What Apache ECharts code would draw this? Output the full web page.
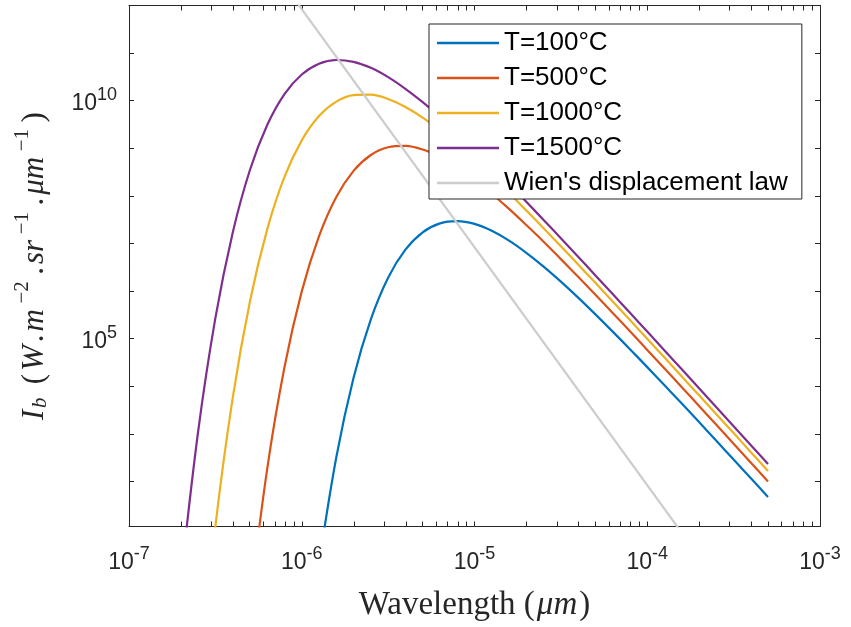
<!DOCTYPE html>
<html><head><meta charset="utf-8">
<script src="https://cdn.jsdelivr.net/npm/echarts@6/dist/echarts.min.js"></script>
<style>html,body{margin:0;padding:0;background:#fff}#c{width:851px;height:627px}</style>
</head><body><div id="c"></div>
<script>
// Wavelength samples (m)
const wavelength = [1.995e-7, 2.512e-7, 3.162e-7, 3.981e-7, 5.012e-7, 6.310e-7, 7.943e-7,
  1.0e-6, 1.259e-6, 1.585e-6, 1.995e-6, 2.512e-6, 3.162e-6, 3.981e-6, 5.012e-6, 6.310e-6, 7.943e-6,
  1.0e-5, 1.259e-5, 1.585e-5, 1.995e-5, 2.512e-5, 3.162e-5, 3.981e-5, 5.012e-5, 6.310e-5, 7.943e-5,
  1.0e-4, 1.259e-4, 1.585e-4, 1.995e-4, 2.512e-4, 3.162e-4, 3.981e-4, 5.0e-4];

const seriesNames = ['T=100°C', 'T=500°C', 'T=1000°C', 'T=1500°C'];
const wienName = "Wien's displacement law";

const intensity100 = [null, null, null, null, null, null, null, null,
  1.88, 324, 1.52e4, 2.56e5, 1.91e6, 7.41e6, 1.72e7, 2.65e7, 2.96e7,
  2.58e7, 1.85e7, 1.15e7, 6.38e6, 3.27e6, 1.58e6, 7.30e5, 3.25e5, 1.41e5, 6.03e4,
  2.53e4, 1.05e4, 4.33e3, 1.77e3, 718, 290, 117, 47.5];
const intensity500 = [null, null, null, null,
  0.282, 185, 2.52e4, 9.86e5, 1.43e7, 9.48e7, 3.35e8, 7.23e8, 1.05e9, 1.12e9, 9.42e8, 6.58e8, 4.00e8,
  2.19e8, 1.11e8, 5.33e7, 2.44e7, 1.09e7, 4.70e6, 2.00e6, 8.38e5, 3.48e5, 1.43e5,
  5.82e4, 2.37e4, 9.56e3, 3.86e3, 1.55e3, 621, 249, 100.5];
const intensity1000 = [null, 3.44e-3, 11.35, 5.60e3, 6.07e5, 1.98e7, 2.50e8,
  1.47e9, 4.76e9, 9.55e9, 1.31e10, 1.34e10, 1.09e10, 7.40e9, 4.42e9, 2.38e9, 1.20e9,
  5.69e8, 2.59e8, 1.15e8, 4.94e7, 2.10e7, 8.77e6, 3.63e6, 1.49e6, 6.07e5, 2.47e5,
  9.95e4, 4.01e4, 1.61e4, 6.47e3, 2.59e3, 1.04e3, 414, 167];
const intensity1500 = [0.82, 1.11e3, 2.70e5, 1.67e7, 3.50e8, 3.09e9, 1.38e10,
  3.56e10, 6.00e10, 7.16e10, 6.56e10, 4.90e10, 3.13e10, 1.78e10, 9.31e9, 4.55e9, 2.12e9,
  9.53e8, 4.16e8, 1.78e8, 7.50e7, 3.13e7, 1.29e7, 5.27e6, 2.14e6, 8.68e5, 3.50e5,
  1.41e5, 5.66e4, 2.27e4, 9.08e3, 3.63e3, 1.45e3, 578, 233];

const wienWavelength = [8.0e-7, 2.0e-4];
const wienIntensity = [2.554e12, 2.616];

const xTicks = [1e-7,2e-7,3e-7,4e-7,5e-7,6e-7,7e-7,8e-7,9e-7,
  1e-6,2e-6,3e-6,4e-6,5e-6,6e-6,7e-6,8e-6,9e-6,
  1e-5,2e-5,3e-5,4e-5,5e-5,6e-5,7e-5,8e-5,9e-5,
  1e-4,2e-4,3e-4,4e-4,5e-4,6e-4,7e-4,8e-4,9e-4,1e-3];
const xLabelTicks = [1e-7, 1e-6, 1e-5, 1e-4, 1e-3];
const xLabelExps = ['-7', '-6', '-5', '-4', '-3'];
const yTicks = [1e2,1e3,1e4,1e5,1e6,1e7,1e8,1e9,1e10,1e11,1e12];
const yLabelTicks = [1e5, 1e10];
const yLabelExps = ['5', '10'];

const colors = ['#0072BD', '#D95319', '#EDB120', '#7E2F8E'];
const wienColor = '#CCCCCC';
const axisColor = '#262626';

function findExp(v, ticks, exps) {
  for (let i = 0; i < ticks.length; i++) {
    if (Math.abs(Math.log10(v) - Math.log10(ticks[i])) < 1e-6) return exps[i];
  }
  return '';
}
const tickRich = {
  b: {fontFamily: 'Liberation Sans', fontSize: 23, lineHeight: 23, padding: [6, 0, 0, 0], color: axisColor},
  s: {fontFamily: 'Liberation Sans', fontSize: 18, lineHeight: 18, padding: [0, 0, 11, 0], color: axisColor}
};

const serif = 'Liberation Serif';
const nameRichX = {
  n: {fontFamily: serif, fontSize: 33, color: axisColor},
  i: {fontFamily: serif, fontStyle: 'italic', fontSize: 33, padding: [0, 2, 0, 2], color: axisColor}
};
const nameRichY = {
  n: {fontFamily: serif, fontSize: 31, lineHeight: 31, padding: [10, 1.5, 10, 1.5], color: axisColor},
  i: {fontFamily: serif, fontStyle: 'italic', fontSize: 31, lineHeight: 31, padding: [10, 1.5, 10, 1.5], color: axisColor},
  sup: {fontFamily: serif, fontSize: 21, lineHeight: 21, padding: [2, 5, 28, 4], color: axisColor},
  sub: {fontFamily: serif, fontStyle: 'italic', fontSize: 21, lineHeight: 21, padding: [20, 4, 10, 0], color: axisColor}
};

const chart = echarts.init(document.getElementById('c'), null, {renderer: 'canvas'});

const xBase = {
  type: 'log', logBase: 10, min: 1e-7, max: 1e-3,
  axisLine: {show: true, lineStyle: {color: axisColor, width: 1}},
  axisTick: {show: true, inside: true, length: 5, customValues: xTicks, lineStyle: {color: axisColor}},
  splitLine: {show: false}, minorTick: {show: false}
};
const yBase = {
  type: 'log', logBase: 10, min: 11.35, max: 1e12,
  axisLine: {show: true, lineStyle: {color: axisColor, width: 1}},
  axisTick: {show: true, inside: true, length: 5, customValues: yTicks, lineStyle: {color: axisColor}},
  splitLine: {show: false}, minorTick: {show: false}
};

const series = [intensity100, intensity500, intensity1000, intensity1500].map((arr, k) => ({
  name: seriesNames[k], type: 'line',
  data: wavelength.map((w, j) => [w, arr[j]]),
  symbol: 'none', showSymbol: false, smooth: 0.35, connectNulls: false, clip: true,
  lineStyle: {width: 2.2, color: colors[k]}, itemStyle: {color: colors[k]}
}));
series.push({
  name: wienName, type: 'line',
  data: wienWavelength.map((w, j) => [w, wienIntensity[j]]),
  symbol: 'none', showSymbol: false, clip: true,
  lineStyle: {width: 2.2, color: wienColor}, itemStyle: {color: wienColor}
});

chart.setOption({
  animation: false,
  backgroundColor: '#fff',
  grid: {left: 129, right: 31, top: 5.5, bottom: 100.5, containLabel: false},
  xAxis: [
    Object.assign({}, xBase, {
      position: 'bottom',
      axisLabel: {show: true, margin: 22, customValues: xLabelTicks,
        formatter: v => '{b|10}{s|' + findExp(v, xLabelTicks, xLabelExps) + '}', rich: tickRich},
      name: '{n|Wavelength (}{i|μm}{n|)}', nameLocation: 'middle', nameGap: 62,
      nameTextStyle: {rich: nameRichX}
    }),
    Object.assign({}, xBase, {position: 'top', axisLabel: {show: false}})
  ],
  yAxis: [
    Object.assign({}, yBase, {
      position: 'left',
      axisLabel: {show: true, margin: 12, customValues: yLabelTicks,
        formatter: v => '{b|10}{s|' + findExp(v, yLabelTicks, yLabelExps) + '}', rich: tickRich},
      name: '{i|I}{sub|b}{n| (}{i|W}{n|.}{i|m}{sup|−2}{n|.}{i|sr}{sup|−1}{n|.}{i|μm}{sup|−1}{n|)}',
      nameLocation: 'middle', nameRotate: 90, nameGap: 78,
      nameTextStyle: {rich: nameRichY}
    }),
    Object.assign({}, yBase, {position: 'right', axisLabel: {show: false}})
  ],
  legend: {
    orient: 'vertical', left: 429, top: 24,
    padding: [6, 14, 3, 8], itemGap: 9, itemWidth: 62, itemHeight: 2.4, icon: 'rect',
    backgroundColor: '#fff', borderColor: axisColor, borderWidth: 1, borderRadius: 0,
    selectedMode: false,
    textStyle: {fontFamily: 'Liberation Sans', fontSize: 26, lineHeight: 26, color: '#000'},
    data: seriesNames.concat([wienName])
  },
  series: series
});
</script>
</body></html>
